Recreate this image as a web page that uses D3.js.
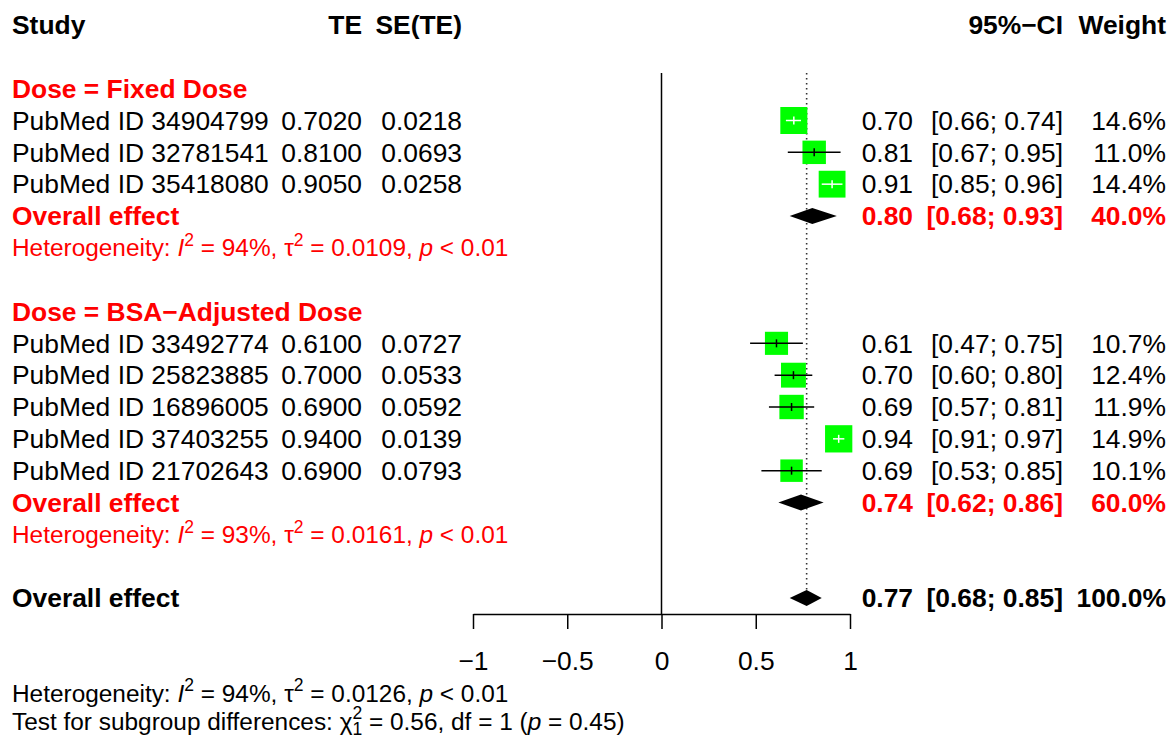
<!DOCTYPE html>
<html>
<head>
    <meta charset="utf-8">
    <script src="https://d3js.org/d3.v7.min.js"></script>
    <style>
        body {
            margin: 0;
            background-color: white;
        }

        svg {
            display: block;
            font-family: "Liberation Sans", Arial, Helvetica, sans-serif;
        }
    </style>
</head>

<body>
</body>
<script>
    const width = 1176,
        height = 740;

    // study level values
    const studies = ["PubMed ID 34904799", "PubMed ID 32781541", "PubMed ID 35418080",
        "PubMed ID 33492774", "PubMed ID 25823885", "PubMed ID 16896005", "PubMed ID 37403255", "PubMed ID 21702643"];
    const dose = ["Fixed Dose", "Fixed Dose", "Fixed Dose",
        "BSA\u2212Adjusted Dose", "BSA\u2212Adjusted Dose", "BSA\u2212Adjusted Dose", "BSA\u2212Adjusted Dose", "BSA\u2212Adjusted Dose"];
    const te = [0.7020, 0.8100, 0.9050, 0.6100, 0.7000, 0.6900, 0.9400, 0.6900];
    const seTE = [0.0218, 0.0693, 0.0258, 0.0727, 0.0533, 0.0592, 0.0139, 0.0793];
    const lower = [0.66, 0.67, 0.85, 0.47, 0.60, 0.57, 0.91, 0.53];
    const upper = [0.74, 0.95, 0.96, 0.75, 0.80, 0.81, 0.97, 0.85];
    const weight = [14.6, 11.0, 14.4, 10.7, 12.4, 11.9, 14.9, 10.1];

    // subgroup summaries
    const groups = ["Fixed Dose", "BSA\u2212Adjusted Dose"];
    const groupTE = [0.80, 0.74];
    const groupLower = [0.68, 0.62];
    const groupUpper = [0.93, 0.86];
    const groupWeight = [40.0, 60.0];
    const groupI2 = ["94%", "93%"];
    const groupTau2 = ["0.0109", "0.0161"];
    const groupP = ["< 0.01", "< 0.01"];

    // overall
    const overallTE = 0.77, overallLower = 0.68, overallUpper = 0.85, overallWeight = 100.0;
    const overallI2 = "94%", overallTau2 = "0.0126", overallP = "< 0.01";
    const subgroupChi2 = "0.56", subgroupDf = "1", subgroupP = "0.45";

    const xTicks = [-1, -0.5, 0, 0.5, 1];

    const RED = "#ff0000", GREEN = "#00ff00";
    const FS = 26.4, FS_SMALL = 24.4;

    const svg = d3.select("body").append("svg").attr("width", width).attr("height", height);

    const x = d3.scaleLinear().domain([-1, 1]).range([473, 850]);
    const rowY = d3.scaleLinear().domain([0, 18]).range([25, 598]);
    const sqSize = d3.scaleSqrt().domain([0, 14.6]).range([0, 27]);
    const f2 = d3.format(".2f"), f4 = d3.format(".4f"), f1 = d3.format(".1f");

    // columns
    const colStudy = 12, colTE = 362, colSE = 462, colEst = 913, colCI = 1063, colW = 1166;

    function txt(str, xx, y, opts = {}) {
        return svg.append("text")
            .attr("x", xx)
            .attr("y", y)
            .attr("dy", "0.35em")
            .attr("text-anchor", opts.anchor || "start")
            .attr("font-size", opts.size || FS)
            .attr("font-weight", opts.bold ? "bold" : "normal")
            .attr("fill", opts.color || "black")
            .text(str);
    }

    // text with italic and super/subscript bits
    function richText(parts, xx, y, color, size) {
        const t = svg.append("text")
            .attr("x", xx)
            .attr("y", y)
            .attr("dy", "0.35em")
            .attr("font-size", size)
            .attr("fill", color);
        let shift = 0;
        parts.forEach(p => {
            const ts = t.append("tspan").text(p.t);
            let target = 0;
            if (p.sup) target = -0.42 * size;
            if (p.sub) target = 0.22 * size;
            if (target !== shift) ts.attr("dy", target - shift);
            shift = target;
            if (p.sup || p.sub) ts.attr("font-size", size * 0.72);
            if (p.italic) ts.attr("font-style", "italic");
            if (p.dx) ts.attr("dx", p.dx);
        });
        return t;
    }

    function hetParts(i2, tau2, p) {
        return [
            { t: "Heterogeneity: " }, { t: "I", italic: true }, { t: "2", sup: true },
            { t: " = " + i2 + ", \u03c4" }, { t: "2", sup: true },
            { t: " = " + tau2 + ", " }, { t: "p", italic: true }, { t: " " + p }
        ];
    }

    // headers
    txt("Study", colStudy, rowY(0), { bold: true });
    txt("TE", colTE, rowY(0), { bold: true, anchor: "end" });
    txt("SE(TE)", colSE, rowY(0), { bold: true, anchor: "end" });
    txt("95%\u2212CI", colCI, rowY(0), { bold: true, anchor: "end" });
    txt("Weight", colW, rowY(0), { bold: true, anchor: "end" });

    // reference lines (drawn first so marks sit on top)
    svg.append("line")
        .attr("x1", x(0)).attr("x2", x(0))
        .attr("y1", 73).attr("y2", 614)
        .attr("stroke", "black").attr("stroke-width", 1.5);
    svg.append("line")
        .attr("x1", x(overallTE)).attr("x2", x(overallTE))
        .attr("y1", 73).attr("y2", rowY(18) - 8)
        .attr("stroke", "#333").attr("stroke-width", 1.6)
        .attr("stroke-dasharray", "1.6,3.4");

    function diamond(est, lo, hi, y) {
        const h = 8;
        svg.append("path")
            .attr("d", `M${x(lo)},${y}L${x(est)},${y - h}L${x(hi)},${y}L${x(est)},${y + h}Z`)
            .attr("fill", "black");
    }

    let row = 2;
    groups.forEach((g, gi) => {
        txt("Dose = " + g, colStudy, rowY(row), { bold: true, color: RED });
        row++;
        studies.forEach((s, i) => {
            if (dose[i] !== g) return;
            const y = rowY(row);
            txt(s, colStudy, y);
            txt(f4(te[i]), colTE, y, { anchor: "end" });
            txt(f4(seTE[i]), colSE, y, { anchor: "end" });
            txt(f2(te[i]), colEst, y, { anchor: "end" });
            txt("[" + f2(lower[i]) + "; " + f2(upper[i]) + "]", colCI, y, { anchor: "end" });
            txt(f1(weight[i]) + "%", colW, y, { anchor: "end" });

            const side = sqSize(weight[i]);
            const cx = x(te[i]);
            svg.append("rect")
                .attr("x", cx - side / 2).attr("y", y - side / 2)
                .attr("width", side).attr("height", side)
                .attr("fill", GREEN);
            const inside = x(lower[i]) >= cx - side / 2 && x(upper[i]) <= cx + side / 2;
            const lc = inside ? "white" : "black";
            svg.append("line")
                .attr("x1", x(lower[i])).attr("x2", x(upper[i]))
                .attr("y1", y).attr("y2", y)
                .attr("stroke", lc).attr("stroke-width", 1.5);
            svg.append("line")
                .attr("x1", cx).attr("x2", cx)
                .attr("y1", y - 4).attr("y2", y + 4)
                .attr("stroke", lc).attr("stroke-width", 1.5);
            row++;
        });
        const y = rowY(row);
        txt("Overall effect", colStudy, y, { bold: true, color: RED });
        txt(f2(groupTE[gi]), colEst, y, { bold: true, color: RED, anchor: "end" });
        txt("[" + f2(groupLower[gi]) + "; " + f2(groupUpper[gi]) + "]", colCI, y, { bold: true, color: RED, anchor: "end" });
        txt(f1(groupWeight[gi]) + "%", colW, y, { bold: true, color: RED, anchor: "end" });
        diamond(groupTE[gi], groupLower[gi], groupUpper[gi], y);
        row++;
        richText(hetParts(groupI2[gi], groupTau2[gi], groupP[gi]), colStudy, rowY(row), RED, FS_SMALL);
        row += 2;
    });

    // overall effect
    const yo = rowY(row);
    txt("Overall effect", colStudy, yo, { bold: true });
    txt(f2(overallTE), colEst, yo, { bold: true, anchor: "end" });
    txt("[" + f2(overallLower) + "; " + f2(overallUpper) + "]", colCI, yo, { bold: true, anchor: "end" });
    txt(f1(overallWeight) + "%", colW, yo, { bold: true, anchor: "end" });
    diamond(overallTE, overallLower, overallUpper, yo);

    // x axis
    const axis = svg.append("g")
        .attr("transform", "translate(0,614)")
        .call(d3.axisBottom(x).tickValues(xTicks).tickSize(15).tickSizeOuter(0).tickPadding(22)
            .tickFormat(d3.format("")));
    axis.select(".domain").attr("stroke-width", 1.5);
    axis.selectAll(".tick line").attr("stroke-width", 1.5);
    axis.selectAll(".tick text")
        .attr("font-size", FS)
        .attr("font-family", "\"Liberation Sans\", Arial, sans-serif");

    // bottom statistics
    richText(hetParts(overallI2, overallTau2, overallP), colStudy, 693, "black", FS_SMALL);
    richText([
        { t: "Test for subgroup differences: \u03c7" }, { t: "2", sup: true },
        { t: subgroupDf, sub: true, dx: -0.556 * FS_SMALL * 0.72 },
        { t: " = " + subgroupChi2 + ", df = " + subgroupDf + " (" }, { t: "p", italic: true },
        { t: " = " + subgroupP + ")" }
    ], colStudy, 721, "black", FS_SMALL);
</script>

</html>
